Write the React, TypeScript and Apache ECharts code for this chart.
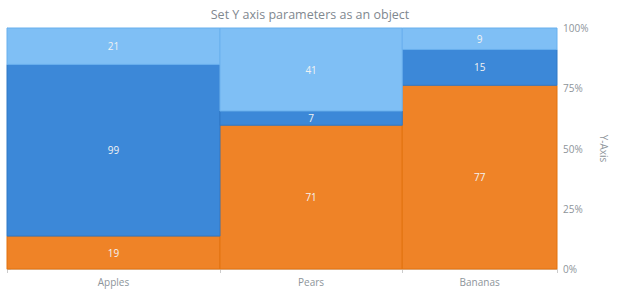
import React, { useEffect, useRef } from "react";
import * as echarts from "echarts";

const categories = ["Apples", "Pears", "Bananas"];
const seriesNames = ["Orange", "Blue", "Light"];
const orangeValues = [19, 71, 77];
const blueValues = [99, 7, 15];
const lightValues = [21, 41, 9];
const yTicks = [0, 25, 50, 75, 100];

const seriesValues = [orangeValues, blueValues, lightValues];
const fills = ["#ef8327", "#3c88d8", "#7fbff5"];
const strokes = ["#e2730f", "#2f78c6", "#69b0ee"];
const FONT = "Open Sans";

export default function App() {
  const ref = useRef<HTMLDivElement>(null);
  useEffect(() => {
    document.body.style.margin = "0";
    if (!ref.current) return;
    const chart = echarts.init(ref.current, undefined, { renderer: "svg" });
    const totals = categories.map((_, i) =>
      seriesValues.reduce((s, arr) => s + arr[i], 0)
    );
    const starts: number[] = [];
    let acc = 0;
    totals.forEach((t) => {
      starts.push(acc);
      acc += t;
    });
    const grand = acc;
    const bounds = [...starts, grand];
    const centers = starts.map((s, i) => s + totals[i] / 2);

    const series = seriesValues.map((vals, j) => {
      const data = vals.map((v, i) => {
        let below = 0;
        for (let k = 0; k < j; k++) below += seriesValues[k][i];
        const y0 = (below / totals[i]) * 100;
        const y1 = ((below + v) / totals[i]) * 100;
        return [starts[i], starts[i] + totals[i], y0, y1, v];
      });
      return {
        type: "custom",
        name: seriesNames[j],
        data,
        renderItem: (params: any, api: any) => {
          const p0 = api.coord([api.value(0), api.value(2)]);
          const p1 = api.coord([api.value(1), api.value(3)]);
          return {
            type: "rect",
            shape: {
              x: p0[0],
              y: p1[1],
              width: p1[0] - p0[0],
              height: p0[1] - p1[1],
            },
            style: { fill: fills[j], stroke: strokes[j], lineWidth: 1 },
            textContent: {
              style: {
                text: String(api.value(4)),
                fill: "#f2f2f2",
                fontSize: 10,
                fontFamily: FONT,
              },
            },
            textConfig: { position: "inside" },
          };
        },
      };
    });

    chart.setOption({
      animation: false,
      title: {
        text: "Set Y axis parameters as an object",
        left: "center",
        top: 3,
        textStyle: {
          color: "#7f888f",
          fontSize: 12.5,
          fontWeight: "normal",
          fontFamily: FONT,
        },
      },
      grid: { left: 7, right: 63, top: 28, bottom: 31 },
      xAxis: {
        type: "value",
        min: 0,
        max: grand,
        splitLine: { show: false },
        axisLine: { show: true, lineStyle: { color: "#d6d6d6" } },
        axisTick: {
          show: true,
          customValues: bounds,
          length: 4,
          lineStyle: { color: "#cccccc" },
        },
        axisLabel: {
          customValues: centers,
          formatter: (v: number) => {
            const idx = centers.findIndex((c) => Math.abs(c - v) < 1e-6);
            return idx >= 0 ? categories[idx] : "";
          },
          color: "#8d949a",
          fontSize: 10,
          fontFamily: FONT,
          margin: 8,
        },
      },
      yAxis: {
        type: "value",
        position: "right",
        min: 0,
        max: 100,
        interval: 25,
        name: "Y-Axis",
        nameLocation: "middle",
        nameRotate: -90,
        nameGap: 33,
        nameTextStyle: {
          color: "#8d949a",
          fontSize: 10,
          fontFamily: FONT,
        },
        splitLine: { show: false },
        axisLine: { show: true, lineStyle: { color: "#d6d6d6" } },
        axisTick: { show: true, length: 4, lineStyle: { color: "#cccccc" } },
        axisLabel: {
          formatter: (v: number) => (yTicks.includes(v) ? `${v}%` : ""),
          color: "#8d949a",
          fontSize: 10,
          fontFamily: FONT,
          margin: 6,
        },
      },
      series,
    });
    return () => chart.dispose();
  }, []);
  return <div ref={ref} style={{ width: 620, height: 300 }} />;
}
